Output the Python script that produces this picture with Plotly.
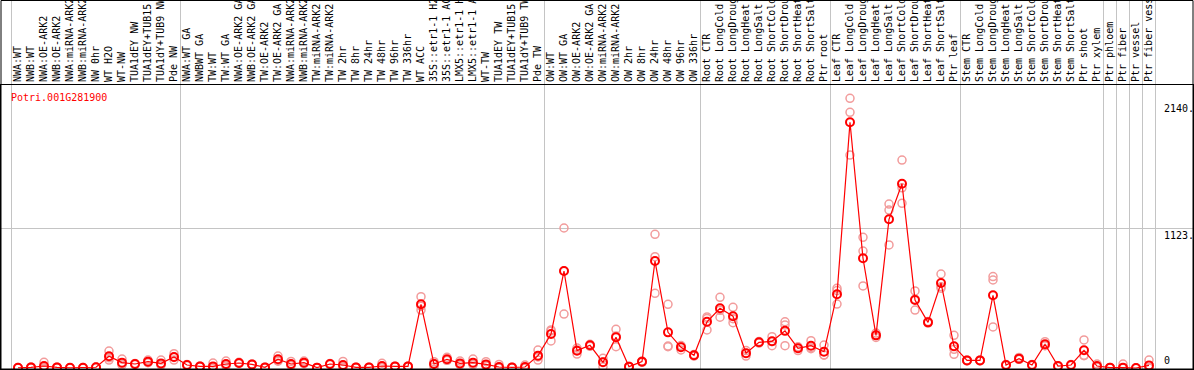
import plotly.graph_objects as go

gene_id = "Potri.001G281900"

categories = [
    "NWA:WT", "NWB:WT", "NWA:OE-ARK2", "NWB:OE-ARK2", "NWA:miRNA-ARK2", "NWB:miRNA-ARK2",
    "NW 0hr", "WT H2O", "WT-NW", "TUA1dEY NW", "TUA1dEY+TUB15 NW", "TUA1dY+TUB9 NW", "Pde NW",
    "NWA:WT GA", "NWBWT GA", "TW:WT", "TW:WT GA", "NWA:OE-ARK2 GA", "NWB:OE-ARK2 GA",
    "TW:OE-ARK2", "TW:OE-ARK2 GA", "NWA:miRNA-ARK2", "NWB:miRNA-ARK2", "TW:miRNA-ARK2",
    "TW:miRNA-ARK2", "TW 2hr", "TW 8hr", "TW 24hr", "TW 48hr", "TW 96hr", "TW 336hr",
    "WT ACC", "35S::etr1-1 H2O", "35S::etr1-1 ACC", "LMX5::etr1-1 H2O", "LMX5::etr1-1 ACC",
    "WT-TW", "TUA1dEY TW", "TUA1dEY+TUB15 TW", "TUA1dY+TUB9 TW", "Pde TW",
    "OW:WT", "OW:WT GA", "OW:OE-ARK2", "OW:OE-ARK2 GA", "OW:miRNA-ARK2", "OW:miRNA-ARK2",
    "OW 2hr", "OW 8hr", "OW 24hr", "OW 48hr", "OW 96hr", "OW 336hr",
    "Root CTR", "Root LongCold", "Root LongDrought", "Root LongHeat", "Root LongSalt",
    "Root ShortCold", "Root ShortDrought", "Root ShortHeat", "Root ShortSalt", "Ptr root",
    "Leaf CTR", "Leaf LongCold", "Leaf LongDrought", "Leaf LongHeat", "Leaf LongSalt",
    "Leaf ShortCold", "Leaf ShortDrought", "Leaf ShortHeat", "Leaf ShortSalt", "Ptr leaf",
    "Stem CTR", "Stem LongCold", "Stem LongDrought", "Stem LongHeat", "Stem LongSalt",
    "Stem ShortCold", "Stem ShortDrought", "Stem ShortHeat", "Stem ShortSalt", "Ptr shoot",
    "Ptr xylem", "Ptr phloem", "Ptr fiber", "Ptr vessel", "Ptr fiber vessel",
]

mean_expr = [
    2, 5, 16, 5, 2, 2, 6, 94, 43, 32, 51, 37, 88,
    24, 13, 13, 32, 40, 29, 5, 70, 32, 43, 3, 32, 24, 5, 5, 16, 13, 13,
    511, 32, 70, 37, 43, 29, 8, 5, 8, 99,
    273, 778, 139, 182, 46, 246, 11, 51, 858, 286, 166, 102,
    371, 479, 415, 118, 206, 214, 298, 158, 179, 131,
    591, 1971, 880, 262, 1193, 1478, 545, 366, 682, 174,
    61, 61, 583, 24, 75, 24, 190, 16, 24, 142,
    16, 3, 3, 0, 21,
]

rep_a = [
    0, 3, 46, 3, 1, 1, 4, 136, 72, 28, 64, 64, 115,
    20, 10, 40, 56, 46, 32, 3, 96, 53, 56, 1, 28, 53, 3, 4, 38, 11, 10,
    572, 51, 86, 56, 72, 51, 29, 3, 24, 144,
    305, 1123, 160, 190, 78, 310, 8, 46, 1072, 511, 180, 96,
    398, 567, 487, 96, 200, 251, 371, 170, 219, 184,
    639, 2163, 1048, 280, 1315, 1668, 618, 360, 754, 262,
    58, 58, 733, 20, 85, 20, 211, 13, 20, 225,
    32, 2, 32, 0, 64,
]

rep_b = [
    3, 6, 2, 6, 2, 2, 6, 64, 24, 32, 43, 24, 64,
    24, 13, 0, 24, 38, 28, 5, 59, 22, 38, 3, 32, 10, 5, 5, 5, 13, 14,
    465, 8, 62, 28, 29, 18, 0, 5, 0, 64,
    217, 433, 112, 174, 11, 171, 11, 51, 893, 171, 145, 102,
    305, 407, 363, 118, 206, 179, 345, 158, 155, 104,
    513, 2051, 938, 262, 1267, 1321, 465, 366, 652, 110,
    61, 61, 706, 24, 70, 24, 180, 16, 24, 99,
    8, 3, 0, 0, 0,
]

rep_c = [
    4, 8, 0, 7, 3, 4, 8, 82, 33, 36, 46, 23, 85,
    28, 16, 0, 16, 36, 27, 7, 55, 21, 35, 5, 36, 9, 7, 6, 5, 15, 15,
    496, 37, 62, 27, 28, 18, 0, 7, 0, 89,
    297, 778, 145, 182, 49, 257, 14, 56, 599, 176, 173, 108,
    410, 463, 395, 140, 212, 212, 179, 140, 163, 105,
    621, 1708, 658, 245, 987, 1445, 552, 372, 640, 150,
    64, 64, 329, 28, 70, 28, 179, 19, 28, 102,
    8, 4, 0, 1, 0,
]

group_sizes = [13, 28, 12, 10, 10, 11, 1, 1, 1, 1]

y_label_values = [2140, 1123, 0]
y_label_text = ["2140.", "1123.", "0"]

FONT = "DejaVu Sans Mono"
W, H = 1194, 370
ML, MR, MT, MB = 1, 1, 85, 1
PW = W - ML - MR
PH = H - MT - MB
PX_PER_CAT = 13.0
FIRST_CENTER_PX = 18.0
x0 = -(FIRST_CENTER_PX - ML) / PX_PER_CAT
x1 = x0 + PW / PX_PER_CAT
UNITS_PER_PX = 1123 / 140.0
y0 = -1 * UNITS_PER_PX
y1 = y0 + PH * UNITS_PER_PX

idx = list(range(len(categories)))

fig = go.Figure()

rep_x = idx + idx + idx
rep_y = rep_a + rep_b + rep_c
fig.add_trace(go.Scatter(
    x=rep_x, y=rep_y, mode="markers",
    marker=dict(symbol="circle-open", size=8, color="#f29c9c", line=dict(width=1.5, color="#f29c9c")),
    hoverinfo="skip", showlegend=False,
))
fig.add_trace(go.Scatter(
    x=idx, y=mean_expr, mode="lines+markers",
    line=dict(color="#ff0000", width=1.2),
    marker=dict(symbol="circle-open", size=8, color="#ff0000", line=dict(width=2, color="#ff0000")),
    showlegend=False,
))

# group separators
top_paper = 1 + MT / PH
b = -0.5
bounds = [b]
for g in group_sizes:
    b += g
    bounds.append(b)
for bd in bounds:
    fig.add_shape(type="line", xref="x", yref="paper", x0=bd, x1=bd, y0=0, y1=top_paper,
                  line=dict(color="#c4c4c4", width=1), layer="below")

# outer frame
fig.add_shape(type="rect", xref="paper", yref="paper", x0=0, x1=1, y0=0, y1=1 + (MT - 0.5) / PH,
              line=dict(color="black", width=1), layer="above")

fig.add_annotation(xref="paper", yref="paper", x=(9 - ML) / PW, y=(H - MB - 97) / PH,
                   text=gene_id, showarrow=False, xanchor="left", yanchor="middle",
                   font=dict(family=FONT, size=10, color="#ff0000"))

for v, t in zip(y_label_values, y_label_text):
    fig.add_annotation(xref="paper", yref="y", x=(1162 - ML) / PW, y=v,
                       text=t, showarrow=False, xanchor="left",
                       yanchor="bottom" if v == 0 else "top",
                       font=dict(family=FONT, size=10, color="black"))

fig.update_layout(
    width=W, height=H,
    margin=dict(l=ML, r=MR, t=MT, b=MB, pad=0),
    paper_bgcolor="white", plot_bgcolor="white",
    xaxis=dict(range=[x0, x1], tickmode="array", tickvals=idx, ticktext=categories,
               side="top", tickangle=-90, ticks="", showgrid=False, zeroline=False,
               showline=True, mirror=True, linecolor="black", linewidth=1,
               tickfont=dict(family=FONT, size=10, color="black"), automargin=False),
    yaxis=dict(range=[y0, y1], tickmode="array", tickvals=[1123], showticklabels=False,
               showgrid=True, gridcolor="#c4c4c4", gridwidth=1, zeroline=False,
               showline=True, mirror=True, linecolor="black", linewidth=1, ticks="",
               automargin=False),
    font=dict(family=FONT, size=10),
)

fig.write_html("out.html", config={"displayModeBar": False},
               post_script="document.body.style.margin='0';")
